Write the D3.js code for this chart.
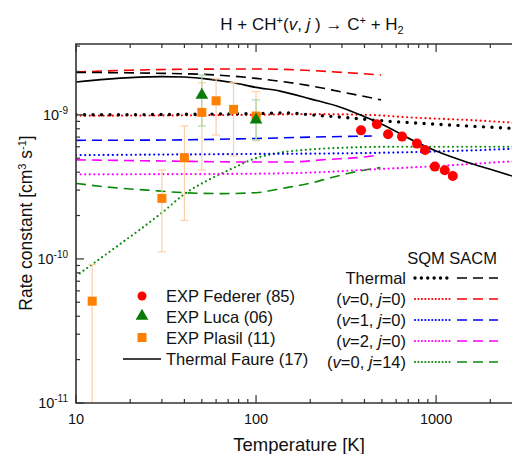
<!DOCTYPE html>
<html>
<head>
<meta charset="utf-8">
<script src="https://cdn.jsdelivr.net/npm/d3@7"></script>
<style>
  body { margin: 0; background: #fff; }
  text { font-family: "Liberation Sans", Arial, Helvetica, sans-serif; fill: #111; }
</style>
</head>
<body>
<script>
// waarden in eenheden van 1e-9 cm3 s-1, temperatuur in K
var faure = [[10,1.69],[20,1.81],[30,1.84],[40,1.83],[50,1.79],[75,1.67],[100,1.55],[136,1.46],[200,1.29],[300,1.12],[400,0.97],[500,0.86],[750,0.66],[1000,0.56],[1500,0.467],[2000,0.419],[3000,0.358]];

var sqmThermal = [[10,1.0],[50,1.01],[100,1.02],[150,1.03],[200,1.0],[320,0.956],[490,0.91],[750,0.88],[1200,0.85],[2000,0.82],[3000,0.80]];
var sacmThermal = [[10,1.97],[30,1.94],[50,1.91],[80,1.84],[100,1.79],[140,1.70],[200,1.59],[300,1.44],[494,1.27]];

var sqmV0J0 = [[10,0.985],[100,1.0],[200,1.01],[400,1.0],[750,0.956],[1500,0.92],[3000,0.875]];
var sacmV0J0 = [[10,1.98],[20,2.04],[40,2.07],[100,2.08],[136,2.07],[200,2.03],[320,1.96],[494,1.89]];

var sqmV1J0 = [[10,0.525],[100,0.535],[300,0.54],[700,0.55],[1500,0.565],[3000,0.585]];
var sacmV1J0 = [[10,0.665],[30,0.668],[100,0.685],[200,0.70],[440,0.713]];

var sqmV2J0 = [[10,0.386],[100,0.39],[200,0.397],[400,0.415],[700,0.43],[1000,0.44],[2000,0.465],[3000,0.48]];
var sacmV2J0 = [[10,0.487],[30,0.478],[100,0.47],[150,0.47],[250,0.49],[400,0.51],[450,0.52]];

var sqmV0J14 = [[10,0.076],[19,0.136],[22.7,0.160],[30,0.209],[41,0.288],[53,0.347],[72,0.418],[100,0.50],[136,0.546],[200,0.575],[320,0.592],[600,0.60],[3000,0.60]];
var sacmV0J14 = [[10,0.334],[15,0.315],[25,0.30],[40,0.288],[65,0.284],[100,0.288],[136,0.307],[200,0.335],[260,0.366],[350,0.40],[490,0.43]];

// metingen: [T, k, onder, boven]
var federer = [[383,0.78],[469,0.859],[541,0.732],[647,0.706],[783,0.631],[868,0.57],[984,0.437],[1117,0.412],[1238,0.376]];
var luca = [[50,1.37,0.836,1.89],[100,0.923,0.67,1.27]];
var plasil = [[12.3,0.0509,0.001,0.0916],[30,0.263,0.112,0.414],[40,0.503,0.185,0.836],[50,1.04,0.414,1.67],[60,1.25,0.724,1.78],[75,1.09,0.518,1.67],[100,0.98,0.66,1.45]];

var xMajor = [10, 100, 1000];
var xMinor = [20,30,40,50,60,70,80,90,200,300,400,500,600,700,800,900,2000,3000];
var yMajorExp = [-11, -10, -9];
var yMinor = [2e-11,3e-11,4e-11,5e-11,6e-11,7e-11,8e-11,9e-11,2e-10,3e-10,4e-10,5e-10,6e-10,7e-10,8e-10,9e-10,2e-9,3e-9];

var sqmLegend = [
  {label: "Thermal", color: "#000", dots: 3.4, gap: 8.5},
  {label: "(v=0, j=0)", color: "#ff0000", dots: 2.2, gap: 4.6},
  {label: "(v=1, j=0)", color: "#0000ff", dots: 2.2, gap: 4.6},
  {label: "(v=2, j=0)", color: "#ff00ff", dots: 2.2, gap: 4.6},
  {label: "(v=0, j=14)", color: "#0a8a0a", dots: 2.2, gap: 4.6}
];

var width = 512, height = 454;
var box = {left: 76, right: 522, top: 44, bottom: 403};

var x = d3.scaleLog().domain([10, 3000]).range([box.left, box.right]);
var y = d3.scaleLog().domain([1e-11, 3.1e-9]).range([box.bottom, box.top]);

var svg = d3.select("body").append("svg")
    .attr("width", width)
    .attr("height", height);

svg.append("defs").append("clipPath").attr("id", "plot")
  .append("rect").attr("x", box.left).attr("y", box.top)
  .attr("width", box.right - box.left).attr("height", box.bottom - box.top);

var plot = svg.append("g").attr("clip-path", "url(#plot)");

var line = d3.line()
    .x(function(d) { return x(d[0]); })
    .y(function(d) { return y(d[1] * 1e-9); })
    .curve(d3.curveMonotoneX);

function dotted(data, color, w, gap) {
  plot.append("path").datum(data)
    .attr("d", line).attr("fill", "none")
    .attr("stroke", color).attr("stroke-width", w)
    .attr("stroke-linecap", "round")
    .attr("stroke-dasharray", "0," + gap);
}
function dashed(data, color) {
  plot.append("path").datum(data)
    .attr("d", line).attr("fill", "none")
    .attr("stroke", color).attr("stroke-width", 1.6)
    .attr("stroke-dasharray", "10,6");
}

// SACM gestreept
dashed(sacmV0J14, "#0a8a0a");
dashed(sacmV2J0, "#ff00ff");
dashed(sacmV1J0, "#0000ff");
dashed(sacmV0J0, "#ff0000");
dashed(sacmThermal, "#000");

// SQM gestippeld
dotted(sqmV0J14, "#0a8a0a", 2.2, 4.6);
dotted(sqmV2J0, "#ff00ff", 2.2, 4.6);
dotted(sqmV1J0, "#0000ff", 2.2, 4.6);
dotted(sqmV0J0, "#ff0000", 2.2, 4.6);
dotted(sqmThermal, "#000", 3.4, 8.5);

// Faure doorgetrokken
plot.append("path").datum(faure)
  .attr("d", line).attr("fill", "none")
  .attr("stroke", "#000").attr("stroke-width", 1.6);

// foutbalken
function errorBars(data, color) {
  var g = plot.append("g").attr("stroke", color).attr("stroke-width", 1.2);
  data.forEach(function(d) {
    var cx = x(d[0]);
    g.append("line").attr("x1", cx).attr("x2", cx)
      .attr("y1", y(d[2] * 1e-9)).attr("y2", y(d[3] * 1e-9));
    [d[2], d[3]].forEach(function(v) {
      g.append("line").attr("x1", cx - 4).attr("x2", cx + 4)
        .attr("y1", y(v * 1e-9)).attr("y2", y(v * 1e-9));
    });
  });
}
errorBars(plasil, "#fdd0a8");
errorBars(luca, "#a9d8a9");

var tri = d3.symbol().type(d3.symbolTriangle).size(70);

plot.selectAll(".plasil").data(plasil).enter().append("rect")
  .attr("x", function(d) { return x(d[0]) - 4.5; })
  .attr("y", function(d) { return y(d[1] * 1e-9) - 4.5; })
  .attr("width", 9).attr("height", 9)
  .attr("fill", "#ff8000");

plot.selectAll(".luca").data(luca).enter().append("path")
  .attr("d", tri)
  .attr("transform", function(d) { return "translate(" + x(d[0]) + "," + y(d[1] * 1e-9) + ")"; })
  .attr("fill", "#0a7a0a");

plot.selectAll(".federer").data(federer).enter().append("circle")
  .attr("cx", function(d) { return x(d[0]); })
  .attr("cy", function(d) { return y(d[1] * 1e-9); })
  .attr("r", 5)
  .attr("fill", "#ff0000");

// assen (ticks naar binnen)
var axisColor = "#333";
var axes = svg.append("g").attr("stroke", axisColor).attr("stroke-width", 1.2);
xMajor.concat(xMinor).forEach(function(t) {
  var len = xMajor.indexOf(t) >= 0 ? 8 : 4;
  var px = x(t);
  axes.append("line").attr("x1", px).attr("x2", px).attr("y1", box.bottom).attr("y2", box.bottom - len);
  axes.append("line").attr("x1", px).attr("x2", px).attr("y1", box.top).attr("y2", box.top + len);
});
yMajorExp.forEach(function(e) {
  var py = y(Math.pow(10, e));
  axes.append("line").attr("x1", box.left).attr("x2", box.left + 8).attr("y1", py).attr("y2", py);
});
yMinor.forEach(function(v) {
  var py = y(v);
  axes.append("line").attr("x1", box.left).attr("x2", box.left + 4).attr("y1", py).attr("y2", py);
});
svg.append("path")
  .attr("d", "M" + box.right + "," + box.top + "H" + box.left + "V" + box.bottom + "H" + box.right)
  .attr("fill", "none").attr("stroke", axisColor).attr("stroke-width", 1.6);

svg.selectAll(".xtick").data(xMajor).enter().append("text")
  .attr("x", function(d) { return x(d); })
  .attr("y", 424)
  .attr("text-anchor", "middle")
  .style("font-size", "14.5px")
  .text(function(d) { return d; });

var yt = svg.selectAll(".ytick").data(yMajorExp).enter().append("text")
  .attr("x", 68)
  .attr("y", function(d) { return y(Math.pow(10, d)) + 5; })
  .attr("text-anchor", "end")
  .style("font-size", "14.5px");
yt.append("tspan").text("10");
yt.append("tspan").attr("dy", -6).style("font-size", "10px").text(function(d) { return "-" + (-d); });

// titel
var title = svg.append("text").attr("x", 312).attr("y", 30)
  .attr("text-anchor", "middle").style("font-size", "17px");
title.append("tspan").text("H + CH");
title.append("tspan").attr("dy", -6).style("font-size", "11px").text("+");
title.append("tspan").attr("dy", 6).text("(");
title.append("tspan").style("font-style", "italic").text("v");
title.append("tspan").text(", ");
title.append("tspan").style("font-style", "italic").text("j");
title.append("tspan").text(" ) \u2192 C");
title.append("tspan").attr("dy", -6).style("font-size", "11px").text("+");
title.append("tspan").attr("dy", 6).text(" + H");
title.append("tspan").attr("dy", 4).style("font-size", "11px").text("2");

// as-titels
svg.append("text").attr("x", 299).attr("y", 451)
  .attr("text-anchor", "middle").style("font-size", "18.5px")
  .text("Temperature [K]");

var yl = svg.append("text")
  .attr("transform", "translate(32,223) rotate(-90)")
  .attr("text-anchor", "middle").style("font-size", "17.5px");
yl.append("tspan").text("Rate constant [cm");
yl.append("tspan").attr("dy", -6).style("font-size", "11px").text("3");
yl.append("tspan").attr("dy", 6).text(" s");
yl.append("tspan").attr("dy", -6).style("font-size", "11px").text("-1");
yl.append("tspan").attr("dy", 6).text("]");

// legenda links
var lg = svg.append("g").style("font-size", "16.5px");
lg.append("circle").attr("cx", 142).attr("cy", 296).attr("r", 4.5).attr("fill", "#ff0000");
lg.append("path").attr("d", tri).attr("transform", "translate(142,316)").attr("fill", "#0a7a0a");
lg.append("rect").attr("x", 137.5).attr("y", 333).attr("width", 9).attr("height", 9).attr("fill", "#ff8000");
lg.append("line").attr("x1", 123).attr("x2", 161).attr("y1", 359).attr("y2", 359)
  .attr("stroke", "#000").attr("stroke-width", 1.6);
["EXP Federer (85)", "EXP Luca (06)", "EXP Plasil (11)", "Thermal Faure (17)"].forEach(function(s, i) {
  lg.append("text").attr("x", 166).attr("y", 302 + i * 21).text(s);
});

// legenda rechts
var rg = svg.append("g").style("font-size", "16.5px");
rg.append("text").attr("x", 497).attr("y", 264).attr("text-anchor", "end").text("SQM SACM");
sqmLegend.forEach(function(d, i) {
  var cy = 278 + i * 21;
  var t = rg.append("text").attr("x", 406).attr("y", cy + 6).attr("text-anchor", "end");
  if (d.label === "Thermal") {
    t.text("Thermal");
  } else {
    var m = d.label.match(/\(v=(\d+), j=(\d+)\)/);
    t.append("tspan").text("(");
    t.append("tspan").style("font-style", "italic").text("v");
    t.append("tspan").text("=" + m[1] + ", ");
    t.append("tspan").style("font-style", "italic").text("j");
    t.append("tspan").text("=" + m[2] + ")");
  }
  rg.append("line").attr("x1", 415).attr("x2", 452).attr("y1", cy).attr("y2", cy)
    .attr("stroke", d.color).attr("stroke-width", d.dots)
    .attr("stroke-linecap", "round").attr("stroke-dasharray", "0," + (d.gap * 0.75));
  rg.append("line").attr("x1", 457).attr("x2", 498).attr("y1", cy).attr("y2", cy)
    .attr("stroke", d.color).attr("stroke-width", 1.6)
    .attr("stroke-dasharray", "10,6");
});
</script>
</body>
</html>
